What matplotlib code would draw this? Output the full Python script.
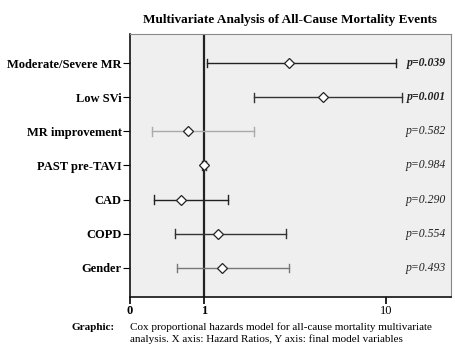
import matplotlib
matplotlib.use("Agg")
import matplotlib.pyplot as plt
from matplotlib.ticker import FixedLocator, FixedFormatter, NullLocator

plt.rcParams['font.family'] = ['Liberation Serif', 'DejaVu Serif']

variables = ["Moderate/Severe MR", "Low SVi", "MR improvement", "PAST pre-TAVI",
             "CAD", "COPD", "Gender"]
hr = [2.92, 4.53, 0.82, 1.00, 0.75, 1.20, 1.26]
ci_low = [1.04, 1.89, 0.52, 0.98, 0.53, 0.69, 0.71]
ci_high = [11.35, 12.3, 1.89, 1.02, 1.36, 2.81, 2.94]
p_labels = ["p=0.039", "p=0.001", "p=0.582", "p=0.984", "p=0.290", "p=0.554", "p=0.493"]
p_bold = [True, True, False, False, False, False, False]
line_colors = ["#222222", "#333333", "#aaaaaa", "#333333", "#222222", "#333333", "#777777"]
x_ticks = [0.392, 1, 10]
x_tick_labels = ["0", "1", "10"]

fig = plt.figure(figsize=(4.56, 3.55), dpi=100)
ax = fig.add_axes([130/456, 1-297/355, (451-130)/456, (297-34)/355])
ax.set_facecolor("#efefef")
ax.set_xscale("log")
ax.set_xlim(0.392, 22.8)
ax.set_ylim(7.85, 0.15)

ax.axvline(1, color="#222222", lw=1.6, zorder=1)

ys = list(range(1, len(variables) + 1))
for y, h, lo, hi, c in zip(ys, hr, ci_low, ci_high, line_colors):
    ax.plot([lo, hi], [y, y], color=c, lw=1.0, zorder=2)
    ax.plot([lo, lo], [y - 0.13, y + 0.13], color=c, lw=1.0, zorder=2)
    ax.plot([hi, hi], [y - 0.13, y + 0.13], color=c, lw=1.0, zorder=2)
    ax.plot([h], [y], marker="D", ms=5, mfc="white", mec="#222222", mew=0.9, zorder=3)

for y, t, b in zip(ys, p_labels, p_bold):
    ax.text(0.985, y, t, transform=ax.get_yaxis_transform(), ha="right", va="center",
            fontsize=8.5, style="italic", fontweight="bold" if b else "normal", color="#222222")

ax.set_yticks(ys)
ax.set_yticklabels(variables, fontsize=9, fontweight="bold")
ax.tick_params(axis="y", length=5, width=0.8, pad=1)

ax.xaxis.set_major_locator(FixedLocator(x_ticks))
ax.xaxis.set_major_formatter(FixedFormatter(x_tick_labels))
ax.xaxis.set_minor_locator(NullLocator())
ax.tick_params(axis="x", length=5, width=1.2, labelsize=9, pad=1)
for lbl in ax.get_xticklabels():
    if lbl.get_text() in ("0", "1"):
        lbl.set_fontweight("bold")

for side in ["left", "bottom"]:
    ax.spines[side].set_linewidth(1.2)
    ax.spines[side].set_color("#111111")
for side in ["top", "right"]:
    ax.spines[side].set_linewidth(0.8)
    ax.spines[side].set_color("#888888")

fig.text(290/456, 1-20/355, "Multivariate Analysis of All-Cause Mortality Events",
         ha="center", va="center", fontsize=9.5, fontweight="bold")

fig.text(72/456, 1-327/355, "Graphic:", ha="left", va="center", fontsize=8, fontweight="bold")
fig.text(130/456, 1-327/355, "Cox proportional hazards model for all-cause mortality multivariate",
         ha="left", va="center", fontsize=8)
fig.text(130/456, 1-339/355, "analysis. X axis: Hazard Ratios, Y axis: final model variables",
         ha="left", va="center", fontsize=8)

fig.savefig("out.png", dpi=100)
